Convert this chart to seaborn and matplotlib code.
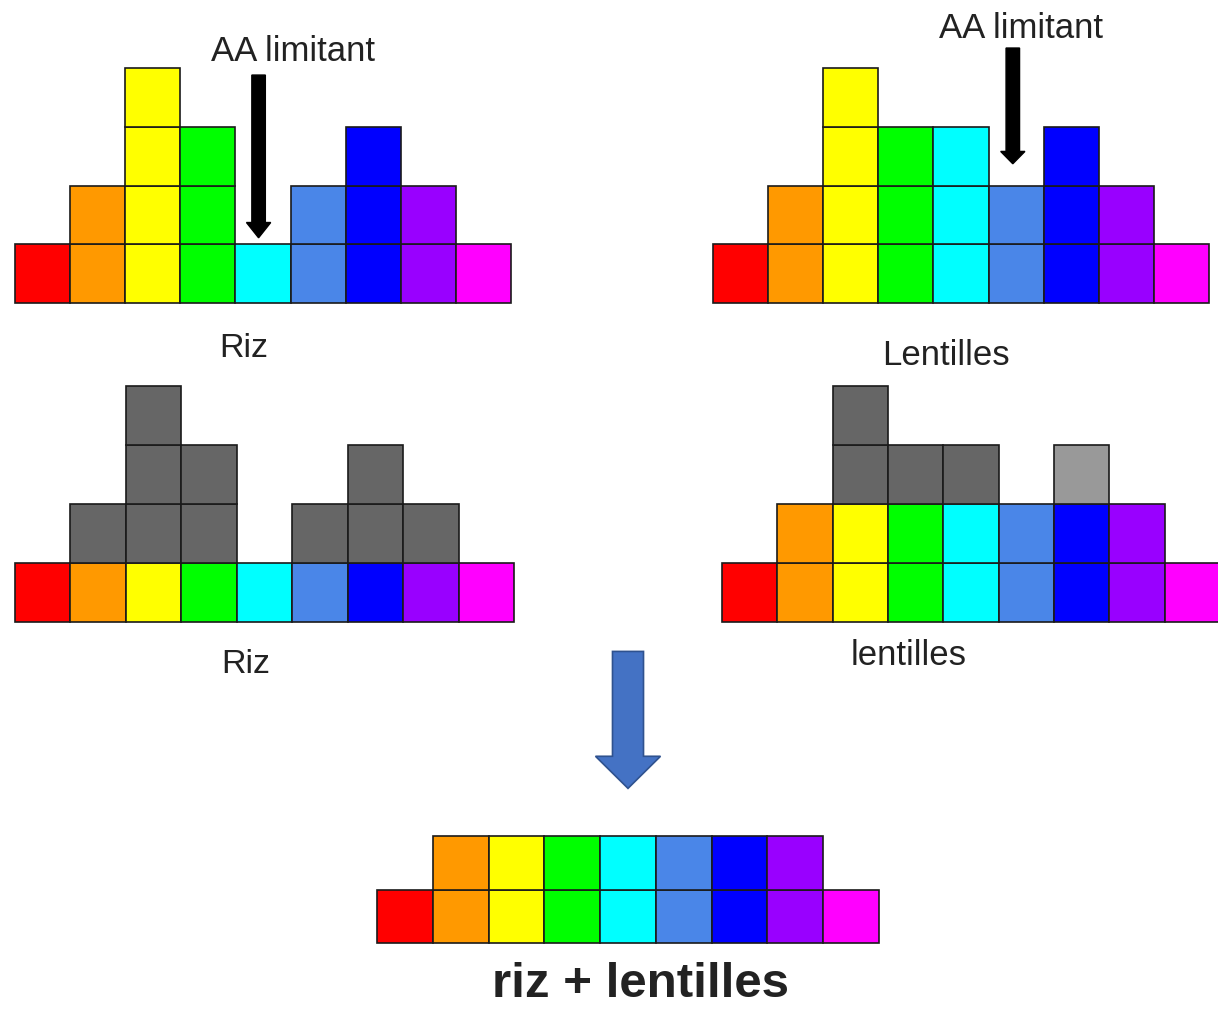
import numpy as np
import matplotlib
matplotlib.use("Agg")
import matplotlib.pyplot as plt
from matplotlib.patches import FancyArrow
import seaborn as sns

sns.set_theme(style="white")
plt.rcParams['font.family'] = ['Liberation Sans', 'DejaVu Sans']

### data
aa_colors = ['#ff0000', '#ff9900', '#ffff00', '#00ff00', '#00ffff',
             '#4a86e8', '#0000ff', '#9900ff', '#ff00ff']
riz = [1, 2, 4, 3, 1, 2, 3, 2, 1]
lentilles = [1, 2, 4, 3, 3, 2, 3, 2, 1]
# covered part (coloured) and surplus (grey) once the limiting AA is applied
riz_base = [1, 1, 1, 1, 1, 1, 1, 1, 1]
riz_surplus = [0, 1, 3, 2, 0, 1, 2, 1, 0]
lent_base = [1, 2, 2, 2, 2, 2, 2, 2, 1]
lent_surplus = [0, 0, 2, 1, 1, 0, 1, 0, 0]
lent_surplus_colors = ['#666666', '#666666', '#666666', '#666666', '#666666',
                       '#666666', '#999999', '#666666', '#666666']
combo = [1, 2, 2, 2, 2, 2, 2, 2, 1]
riz_limit = 4        # cyan
lent_limit = 5       # light blue

W, H = 1218, 1009
fig = plt.figure(figsize=(W / 100, H / 100), dpi=100)
fig.patch.set_facecolor('white')

EDGE = '#1a1a1a'
TXT = '#222222'


def panel(left, top, right, bottom, nrows):
    ax = fig.add_axes([left / W, 1 - bottom / H, (right - left) / W, (bottom - top) / H])
    ax.set_xlim(-0.5, 8.5)
    ax.set_ylim(0, nrows)
    ax.axis('off')
    return ax


def stack(ax, counts, colors, start=None):
    counts = np.asarray(counts)
    start = np.zeros(len(counts), dtype=int) if start is None else np.asarray(start)
    x = np.arange(len(counts))
    for k in range(counts.max()):
        m = counts > k
        ax.bar(x[m], 1, bottom=start[m] + k, width=1,
               color=np.asarray(colors)[m], edgecolor=EDGE,
               linewidth=1.2, clip_on=False)


def limit_arrow(ax, x, y0, y1, head_len):
    ax.add_patch(FancyArrow(x, y0, 0, y1 - y0, width=0.245, head_width=0.44,
                            head_length=head_len, length_includes_head=True,
                            color='black', clip_on=False))


def label(px, py, s, size, weight='normal'):
    fig.text(px / W, 1 - py / H, s, ha='center', va='baseline',
             fontsize=size, color=TXT, fontweight=weight)


# top left : riz
ax1 = panel(15, 68, 511, 303, 4)
stack(ax1, riz, aa_colors)
limit_arrow(ax1, riz_limit - 0.08, 3.88, riz[riz_limit] + 0.11, 0.26)
label(293, 61, 'AA limitant', 25)
label(244, 357, 'Riz', 24.5)

# top right : lentilles
ax2 = panel(713, 68, 1209, 303, 4)
stack(ax2, lentilles, aa_colors)
limit_arrow(ax2, lent_limit - 0.06, 4.34, lentilles[lent_limit] + 0.37, 0.21)
label(1021, 38, 'AA limitant', 25)
label(946, 365, 'Lentilles', 25)

# middle left : riz, surplus in grey
ax3 = panel(15, 386, 514, 622, 4)
stack(ax3, riz_base, aa_colors)
stack(ax3, riz_surplus, ['#666666'] * 9, start=riz_base)
label(246, 673, 'Riz', 24.5)

# middle right : lentilles, surplus in grey
ax4 = panel(722, 386, 1220, 622, 4)
stack(ax4, lent_base, aa_colors)
stack(ax4, lent_surplus, lent_surplus_colors, start=lent_base)
label(909, 665, 'lentilles', 25)

# bottom : riz + lentilles
ax5 = panel(377, 836, 879, 943, 2)
stack(ax5, combo, aa_colors)
ax5.add_patch(FancyArrow(4, 5.45, 0, -2.56, width=0.556, head_width=1.165,
                         head_length=0.60, length_includes_head=True,
                         facecolor='#4472c4', edgecolor='#2f528f',
                         linewidth=1.2, clip_on=False))
label(640, 997, 'riz + lentilles', 35.5, weight='bold')

plt.savefig('out.png', dpi=100, facecolor='white')
plt.close()
